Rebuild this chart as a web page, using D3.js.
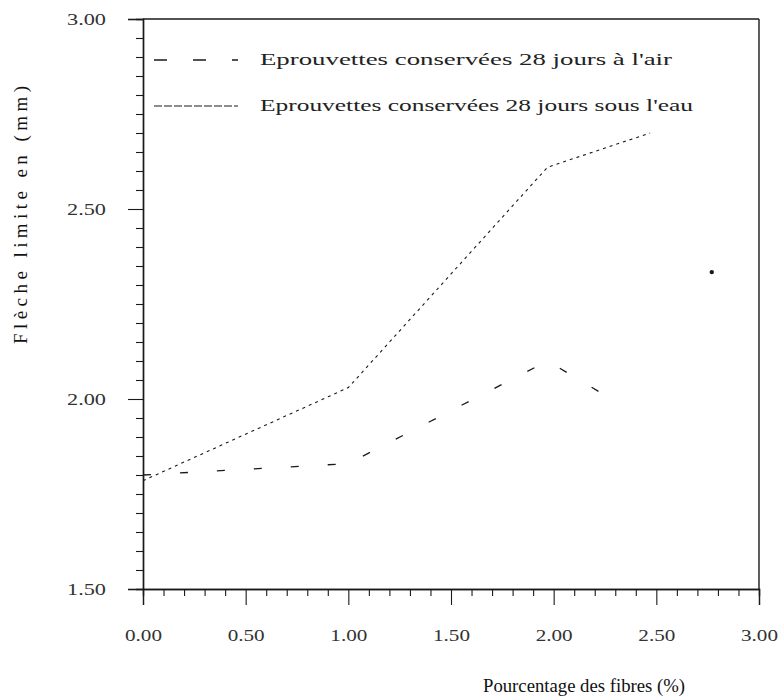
<!DOCTYPE html>
<html>
<head>
<meta charset="utf-8">
<script src="https://cdn.jsdelivr.net/npm/d3@7/dist/d3.min.js"></script>
<style>
  html, body { margin: 0; padding: 0; background: #fff; }
  svg { display: block; }
  svg text { font-family: "Liberation Serif", "DejaVu Serif", serif; }
</style>
</head>
<body>
<svg id="chart" width="784" height="700"></svg>
<script>
// Flèche limite en fonction du pourcentage de fibres
const fibresAir = [0.00, 1.00, 1.97, 2.25];
const flecheAir = [1.80, 1.83, 2.10, 2.01];

const fibresEau = [0.00, 1.00, 1.97, 2.47];
const flecheEau = [1.785, 2.03, 2.61, 2.70];

const pointIsoleX = [2.77];
const pointIsoleY = [2.334];

const seriesNames = [
  "Eprouvettes conservées 28 jours à l'air",
  "Eprouvettes conservées 28 jours sous l'eau"
];

const xMajorTicks = [0, 0.5, 1.0, 1.5, 2.0, 2.5, 3.0];
const yMajorTicks = [1.5, 2.0, 2.5, 3.0];

const xTitle = "Pourcentage des fibres (%)";
const yTitle = "Flèche limite en (mm)";

const svg = d3.select("#chart");
const ink = "#1a1a1a";
const serif = "'Liberation Serif', 'DejaVu Serif', serif";

const x = d3.scaleLinear().domain([0, 3]).range([143, 759]);
const y = d3.scaleLinear().domain([1.5, 3]).range([589, 19]);

const fmt = d3.format(".2f");

// frame (top and right)
svg.append("line").attr("x1", x(0)).attr("x2", x(3)).attr("y1", y(3)).attr("y2", y(3))
  .attr("stroke", ink).attr("stroke-width", 1.4);
svg.append("line").attr("x1", x(3)).attr("x2", x(3)).attr("y1", y(3)).attr("y2", y(1.5))
  .attr("stroke", ink).attr("stroke-width", 1.4);

// x axis with minor ticks every 0.1
const xMinor = d3.range(0, 3.0001, 0.1).filter(v => !xMajorTicks.some(m => Math.abs(m - v) < 1e-6));
const xAxisMinor = d3.axisBottom(x).tickValues(xMinor).tickSize(7).tickFormat("");
const xAxisMajor = d3.axisBottom(x).tickValues(xMajorTicks).tickSize(16).tickPadding(24).tickFormat(fmt);

const gxm = svg.append("g").attr("transform", `translate(0,${y(1.5)})`).call(xAxisMinor);
const gx = svg.append("g").attr("transform", `translate(0,${y(1.5)})`).call(xAxisMajor);
[gxm, gx].forEach(g => {
  g.attr("font-family", serif);
  g.select(".domain").attr("stroke", ink).attr("stroke-width", 1.4);
  g.selectAll(".tick line").attr("stroke", ink).attr("stroke-width", 1.1);
});
gx.selectAll(".tick text")
  .attr("font-size", 17).attr("fill", "#333")
  .attr("textLength", 37).attr("lengthAdjust", "spacingAndGlyphs");

// y axis with minor ticks every 0.05
const yMinor = d3.range(1.5, 3.0001, 0.05).filter(v => !yMajorTicks.some(m => Math.abs(m - v) < 1e-6));
const yAxisMinor = d3.axisLeft(y).tickValues(yMinor).tickSize(7).tickFormat("");
const yAxisMajor = d3.axisLeft(y).tickValues(yMajorTicks).tickSize(15).tickPadding(22).tickFormat(fmt);

const gym = svg.append("g").attr("transform", `translate(${x(0)},0)`).call(yAxisMinor);
const gy = svg.append("g").attr("transform", `translate(${x(0)},0)`).call(yAxisMajor);
[gym, gy].forEach(g => {
  g.attr("font-family", serif);
  g.select(".domain").attr("stroke", ink).attr("stroke-width", 1.4);
  g.selectAll(".tick line").attr("stroke", ink).attr("stroke-width", 1.1);
});
gy.selectAll(".tick text")
  .attr("font-size", 17).attr("fill", "#333")
  .attr("textLength", 39).attr("lengthAdjust", "spacingAndGlyphs");

// series
const line = d3.line().x(d => x(d[0])).y(d => y(d[1]));
const airData = fibresAir.map((v, i) => [v, flecheAir[i]]);
const eauData = fibresEau.map((v, i) => [v, flecheEau[i]]);

svg.append("path").datum(airData).attr("d", line)
  .attr("fill", "none").attr("stroke", ink).attr("stroke-width", 1.3)
  .attr("stroke-dasharray", "8,29");

svg.append("path").datum(eauData).attr("d", line)
  .attr("fill", "none").attr("stroke", ink).attr("stroke-width", 1.1)
  .attr("stroke-dasharray", "3,4");

svg.selectAll("circle.iso").data(pointIsoleX.map((v, i) => [v, pointIsoleY[i]]))
  .enter().append("circle").attr("class", "iso")
  .attr("cx", d => x(d[0])).attr("cy", d => y(d[1])).attr("r", 2.2).attr("fill", ink);

// legend
const legend = svg.append("g");
const legendRows = [
  { name: seriesNames[0], y: 60, dash: "13,26", w: 1.3, len: 412 },
  { name: seriesNames[1], y: 106, dash: "8,2", w: 1.1, len: 433 }
];
legendRows.forEach(r => {
  legend.append("line").attr("x1", 154).attr("x2", 238).attr("y1", r.y).attr("y2", r.y)
    .attr("stroke", ink).attr("stroke-width", r.w).attr("stroke-dasharray", r.dash);
  legend.append("text").attr("x", 260).attr("y", r.y + 5)
    .attr("font-size", 16).attr("fill", "#222")
    .attr("textLength", r.len).attr("lengthAdjust", "spacingAndGlyphs")
    .text(r.name);
});

// axis titles
svg.append("text").attr("x", 584).attr("y", 692).attr("text-anchor", "middle")
  .attr("font-size", 19).attr("fill", "#111")
  .attr("textLength", 202).attr("lengthAdjust", "spacingAndGlyphs")
  .text(xTitle);

svg.append("text").attr("transform", "translate(27,215) rotate(-90)")
  .attr("text-anchor", "middle").attr("font-size", 19).attr("fill", "#111")
  .attr("textLength", 258).attr("lengthAdjust", "spacing")
  .text(yTitle);
</script>
</body>
</html>
